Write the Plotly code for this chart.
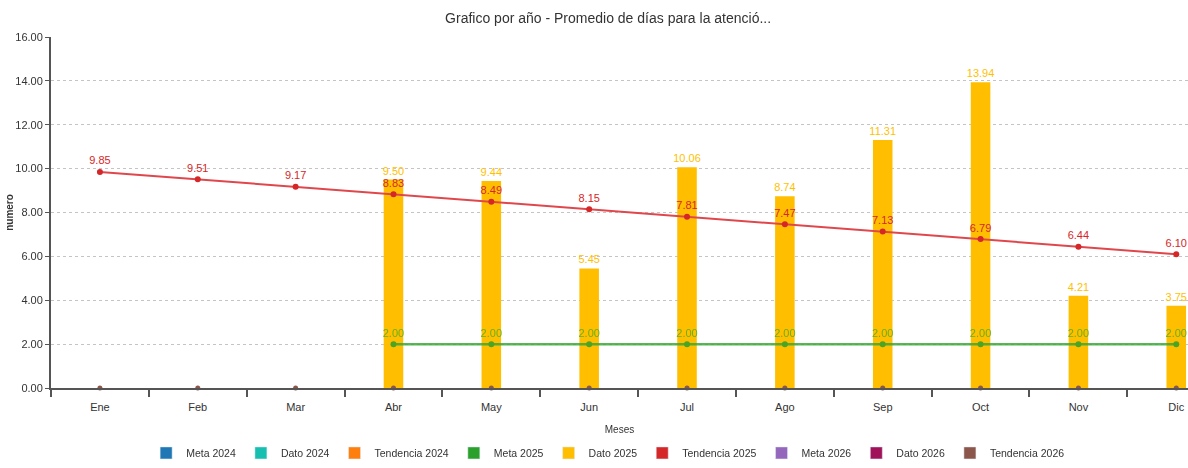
import plotly.graph_objects as go

meses = ["Ene", "Feb", "Mar", "Abr", "May", "Jun", "Jul", "Ago", "Sep", "Oct", "Nov", "Dic"]
dato_2025 = [None, None, None, 9.50, 9.44, 5.45, 10.06, 8.74, 11.31, 13.94, 4.21, 3.75]
meta_2025 = [None, None, None, 2.00, 2.00, 2.00, 2.00, 2.00, 2.00, 2.00, 2.00, 2.00]
tendencia_2025 = [9.85, 9.51, 9.17, 8.83, 8.49, 8.15, 7.81, 7.47, 7.13, 6.79, 6.44, 6.10]
tendencia_2026 = [0, 0, 0, 0, 0, 0, 0, 0, 0, 0, 0, 0]

series_legend = ["Meta 2024", "Dato 2024", "Tendencia 2024", "Meta 2025", "Dato 2025",
                 "Tendencia 2025", "Meta 2026", "Dato 2026", "Tendencia 2026"]
colores = ["#1f77b4", "#17bfb0", "#ff7f0e", "#2ca02c", "#ffbf00",
           "#d62728", "#9467bd", "#a0125a", "#8c564b"]

FONT = "Liberation Sans Narrow, Arial Narrow, Liberation Sans, Arial, sans-serif"

fig = go.Figure()

# Dato 2025 bars
fig.add_trace(go.Bar(
    x=meses, y=dato_2025, width=0.2, marker_color="#ffbf00", marker_line_width=0,
    text=[f"{v:.2f}" if v is not None else "" for v in dato_2025],
    textposition="outside", constraintext="none",
    textfont=dict(color="#ffbf00", size=11, family=FONT),
    cliponaxis=False, showlegend=False, name="Dato 2025"))

# Meta 2025 line
fig.add_trace(go.Scatter(
    x=meses, y=meta_2025, mode="lines+markers+text",
    line=dict(color="#3aa83a", width=2.5), marker=dict(size=6, color="#2ca02c"),
    text=[f"{v:.2f}" if v is not None else "" for v in meta_2025],
    textposition="top center", textfont=dict(color="#4caf1a", size=11, family=FONT),
    showlegend=False, name="Meta 2025", opacity=0.85))

# Tendencia 2025 line
fig.add_trace(go.Scatter(
    x=meses, y=tendencia_2025, mode="lines+markers+text",
    line=dict(color="#e0474c", width=2), marker=dict(size=6, color="#d62728"),
    text=[f"{v:.2f}" for v in tendencia_2025],
    textposition="top center", textfont=dict(color="#d62728", size=11, family=FONT),
    showlegend=False, name="Tendencia 2025"))

# Tendencia 2026 zeros
fig.add_trace(go.Scatter(
    x=meses, y=tendencia_2026, mode="markers",
    marker=dict(size=5, color="#8c564b"), showlegend=False,
    name="Tendencia 2026", cliponaxis=False))

# legend entries
for nombre, c in zip(series_legend, colores):
    fig.add_trace(go.Bar(x=[None], y=[None], name=nombre, marker_color=c))

fig.update_layout(
    width=1188, height=468,
    margin=dict(l=51, r=0, t=37, b=77),
    paper_bgcolor="white", plot_bgcolor="white",
    font=dict(family=FONT, size=11, color="#333333"),
    title=dict(text="Grafico por año - Promedio de días para la atenció...",
               x=0.49, xref="paper", xanchor="center", y=0.9615, yref="container", yanchor="middle",
               pad=dict(t=0, b=0),
               font=dict(size=14, color="#333333", family=FONT)),
    barmode="overlay",
    showlegend=True,
    legend=dict(orientation="h", x=0.49, xanchor="center", y=-0.185, yanchor="middle",
                font=dict(size=10.5, color="#333333", family=FONT),
                itemwidth=30, tracegroupgap=0),
    xaxis=dict(
        range=[-0.5, 11.12], showgrid=False, showline=True, linecolor="#555555", linewidth=2,
        tickfont=dict(size=11, color="#333333"), automargin=False, ticklabelstandoff=8,
        title=dict(text="Meses", font=dict(size=10, color="#333333"), standoff=14),
        zeroline=False),
    yaxis=dict(
        range=[0, 16], dtick=2, tickformat=".2f", showgrid=True, gridcolor="#c4c4c4",
        griddash="dot", gridwidth=1.2, showline=True, linecolor="#555555", linewidth=2,
        ticks="outside", ticklen=4, tickcolor="#555555", tickfont=dict(size=11, color="#333333"),
        automargin=False,
        title=dict(text="<b>numero</b>", font=dict(size=10, color="#333333"), standoff=0),
        zeroline=False),
)

# category boundary ticks on x axis
fig.update_xaxes(ticks="outside", tickson="boundaries", ticklen=7, tickcolor="#555555", tickwidth=1.5)

fig.write_html("out.html", config={"displayModeBar": False},
               post_script="document.body.style.margin='0';document.body.style.overflow='hidden';")
